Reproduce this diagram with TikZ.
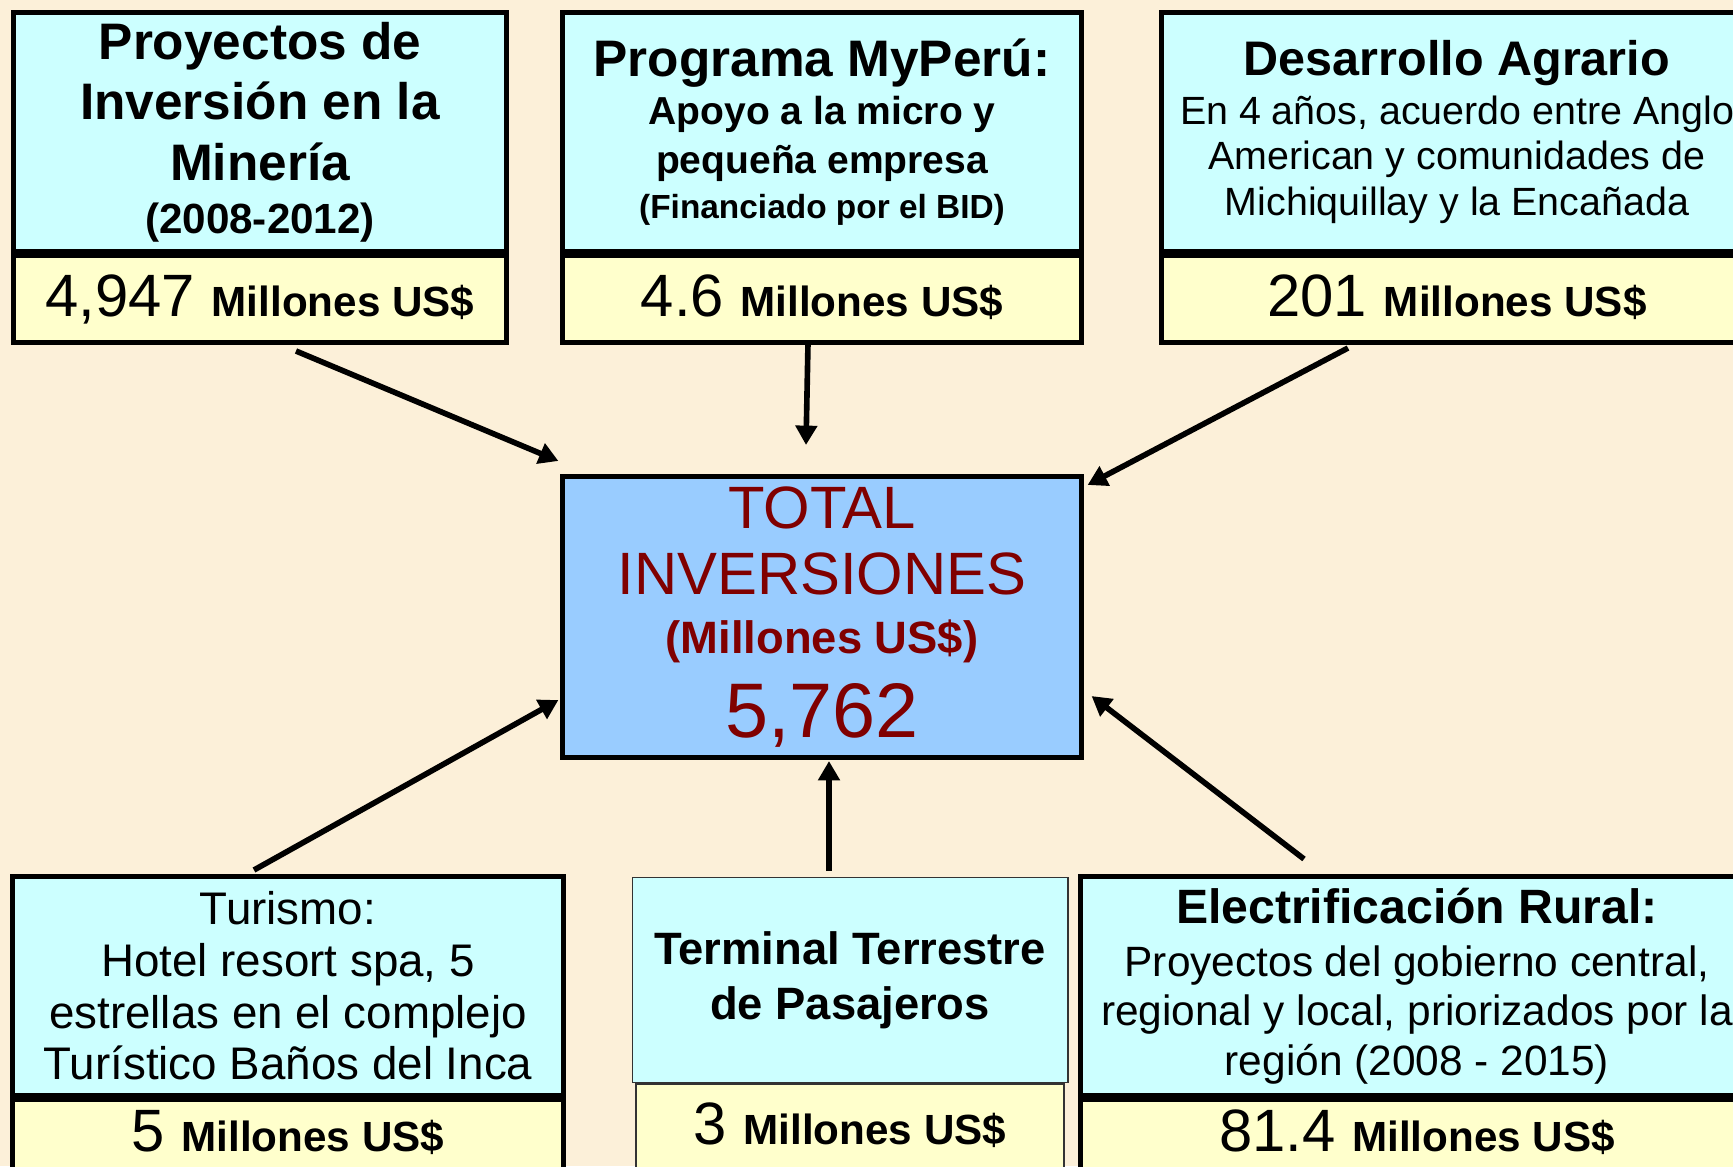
\documentclass[tikz,border=0pt]{standalone}
\usepackage{fontspec}
\setmainfont{Liberation Sans}
\usepackage{xcolor}
\usepackage{tikz}
\usetikzlibrary{positioning,calc,arrows.meta}

\definecolor{paper}{HTML}{FCF0D9}
\definecolor{cyanbox}{HTML}{CCFFFF}
\definecolor{yellowbox}{HTML}{FFFFCC}
\definecolor{bluebox}{HTML}{99CCFF}
\definecolor{darkred}{HTML}{800000}

\newcommand{\setfs}[2]{\fontsize{#1}{#2}\selectfont}

\begin{document}
\begin{tikzpicture}[x=0.01cm, y=-0.01cm,
    headbox/.style={draw, line width=1.4pt, fill=cyanbox, inner sep=0pt, align=flush center},
    valbox/.style={draw, line width=1.4pt, fill=yellowbox, inner sep=0pt, align=flush center,
        minimum height=0.86cm, text depth=2pt, font=\setfs{17}{20}},
    totbox/.style={draw, line width=1.4pt, fill=bluebox, text=darkred, inner sep=0pt, align=flush center},
    thin/.style={draw=black!80, line width=0.5pt},
    feed/.style={line width=1.6pt, -{Triangle[length=5.5pt, width=6pt]}}]

    \useasboundingbox (0,0) rectangle (1733,1166);
    \fill[paper] (0,0) rectangle (1733,1166);
    \clip (0,0) rectangle (1733,1166);

    \node[headbox, text width=4.93cm, minimum height=2.38cm] (Min) at (260,132)
        {\bfseries\setfs{14.6}{17.2}Proyectos de\\Inversión en la\\Minería\par
         \setfs{12}{15}(2008-2012)\par};
    \node[valbox, text width=4.93cm, below=0pt of Min] (MinVal)
        {4,947 {\bfseries\setfs{12}{14}Millones US\$}};

    \node[headbox, text width=5.18cm, minimum height=2.38cm] (Myp) at (822,132)
        {\bfseries\setfs{14.6}{17.2}Programa MyPerú:\par
         \setfs{11.1}{13.8}Apoyo a la micro y\\pequeña empresa\par
         \setfs{9.5}{12.9}(Financiado por el BID)\par};
    \node[valbox, text width=5.18cm, below=0pt of Myp] (MypVal)
        {4.6 {\bfseries\setfs{12}{14}Millones US\$}};

    \node[headbox, text width=5.9cm, minimum height=2.38cm] (Agr) at (1457,132)
        {{\bfseries\setfs{13.8}{16}Desarrollo Agrario\par}
         \setfs{11.2}{13.8}En 4 años, acuerdo entre Anglo\par
         \setfs{11.2}{13}American y comunidades de\\Michiquillay y la Encañada\par};
    \node[valbox, text width=5.9cm, below=0pt of Agr] (AgrVal)
        {201 {\bfseries\setfs{12}{14}Millones US\$}};

    \node[totbox, text width=5.18cm, minimum height=2.81cm] (Tot) at (822,617)
        {\setfs{17}{18.8}TOTAL\\INVERSIONES\par
         {\bfseries\setfs{12.9}{16.8}(Millones US\$)\par}
         \setfs{22}{24}5,762\par};

    \node[headbox, text width=5.5cm, minimum height=2.18cm] (Tur) at (288,986)
        {\setfs{13}{14.7}Turismo:\\Hotel resort spa, 5\\estrellas en el complejo\\Turístico Baños del Inca\par};
    \node[valbox, text width=5.5cm, text depth=7pt, below=0pt of Tur] (TurVal)
        {5 {\bfseries\setfs{12}{14}Millones US\$}};

    \node[headbox, thin, text width=4.35cm, minimum height=2.05cm] (Ter) at (850,980)
        {\bfseries\setfs{12.9}{15.7}Terminal Terrestre\\de Pasajeros\par};
    \node[valbox, thin, text width=4.28cm, minimum height=0.9cm, text depth=3.5pt, below=0pt of Ter] (TerVal)
        {3 {\bfseries\setfs{12}{14}Millones US\$}};

    \node[headbox, text width=6.72cm, minimum height=2.18cm] (Ele) at (1417,986)
        {{\bfseries\setfs{13.7}{15.5}Electrificación Rural:\par}
         \setfs{12.06}{15}Proyectos del gobierno central,\par
         \setfs{12.06}{14.1}regional y local, priorizados por la\\región (2008 - 2015)\par};
    \node[valbox, text width=6.72cm, text depth=7pt, below=0pt of Ele] (EleVal)
        {81.4 {\bfseries\setfs{12}{14}Millones US\$}};

    \coordinate (m1) at (296,351);
    \coordinate (m2) at (808,343);
    \coordinate (m3) at (1348,348);
    \coordinate (m4) at (254,870);
    \coordinate (m5) at (829,871);
    \coordinate (m6) at (1304,859);

    \draw[feed] (m1) -- ($(Tot.north west)+(-2,-13)$);
    \draw[feed] (m2) -- ($(Tot.north)+(-16,-29)$);
    \draw[feed] (m3) -- ($(Tot.north east)+(4,11)$);
    \draw[feed] (m4) -- ($(Tot.south west)+(-2,-60)$);
    \draw[feed] (m5) -- ($(Tot.south)+(7,1)$);
    \draw[feed] (m6) -- ($(Tot.south east)+(8,-64)$);
\end{tikzpicture}
\end{document}
